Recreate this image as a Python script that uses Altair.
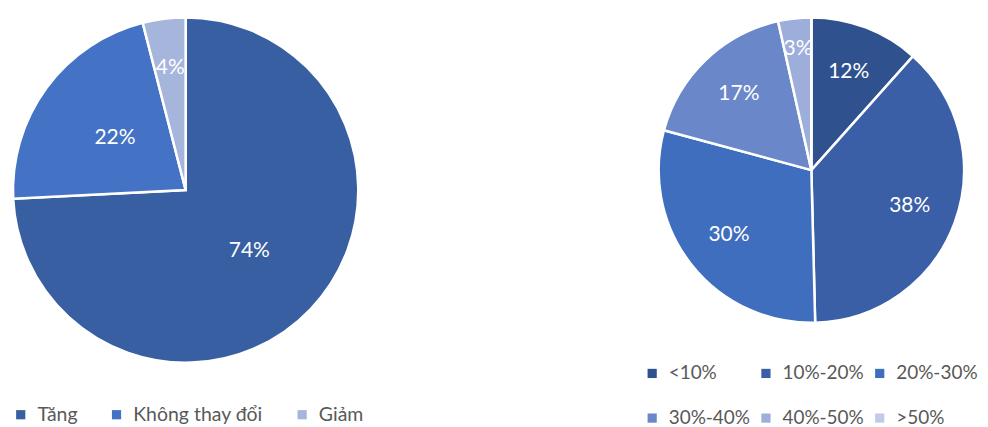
import altair as alt
import pandas as pd

left_cats = ["Tăng", "Không thay đổi", "Giảm"]
left_vals = [74.2, 21.8, 4.0]
left_labels = ["74%", "22%", "4%"]
left_colors = ["#385FA1", "#4472C4", "#A6B5DB"]

right_cats = ["<10%", "10%-20%", "20%-30%", "30%-40%", "40%-50%", ">50%"]
right_vals = [11.6, 38.0, 29.6, 17.3, 3.5, 0.0]
right_labels = ["12%", "38%", "30%", "17%", "3%", ""]
right_colors = ["#2F528F", "#3A5FA6", "#406EBE", "#6A88C9", "#9DAEDB", "#C0CBE7"]

FONT = "Lato"


def pie(cats, vals, labels, colors, cx, cy, r, lab_r, lab_r_small, legend):
    df = pd.DataFrame({"cat": cats, "val": vals, "lbl": labels, "ord": list(range(len(cats)))})
    base = alt.Chart(df).encode(
        theta=alt.Theta("val:Q", stack=True),
        order=alt.Order("ord:Q", sort="ascending"),
        x=alt.value(cx),
        y=alt.value(cy),
    )
    arcs = base.mark_arc(radius=r, stroke="white", strokeWidth=2.5).encode(
        color=alt.Color("cat:N", scale=alt.Scale(domain=cats, range=colors), legend=legend)
    )
    big = base.transform_calculate(
        t="datum.val >= 6 ? datum.lbl : ''"
    ).mark_text(font=FONT, fontSize=21, color="white", radius=lab_r).encode(
        text="t:N", detail="cat:N"
    )
    small = base.transform_calculate(
        t="datum.val < 6 ? datum.lbl : ''"
    ).mark_text(font=FONT, fontSize=21, color="white", radius=lab_r_small).encode(
        text="t:N", detail="cat:N"
    )
    return alt.layer(arcs, big, small)


legend_common = dict(
    title=None, orient="none", direction="horizontal",
    labelFont=FONT, labelColor="#595959", symbolType="square",
    symbolSize=85, symbolStrokeWidth=0, padding=0, labelLimit=400, labelOffset=7,
)
left_legend = alt.Legend(legendX=1, legendY=397, labelFontSize=19.5, columnPadding=29,
                         **legend_common)
right_legend = alt.Legend(legendX=2, legendY=356, labelFontSize=19, columns=3,
                          columnPadding=6, rowPadding=25, **legend_common)

left = pie(left_cats, left_vals, left_labels, left_colors, 176, 182, 173, 88, 123,
           left_legend).properties(width=390, height=364)
right = pie(right_cats, right_vals, right_labels, right_colors, 171, 162, 153, 105, 122,
            right_legend).properties(width=340, height=324)

chart = alt.hconcat(left, right, spacing=242).resolve_scale(
    color="independent"
).properties(padding=0, background="white").configure_view(stroke=None)

chart.save("out.html", embed_options={"renderer": "svg", "actions": False})
